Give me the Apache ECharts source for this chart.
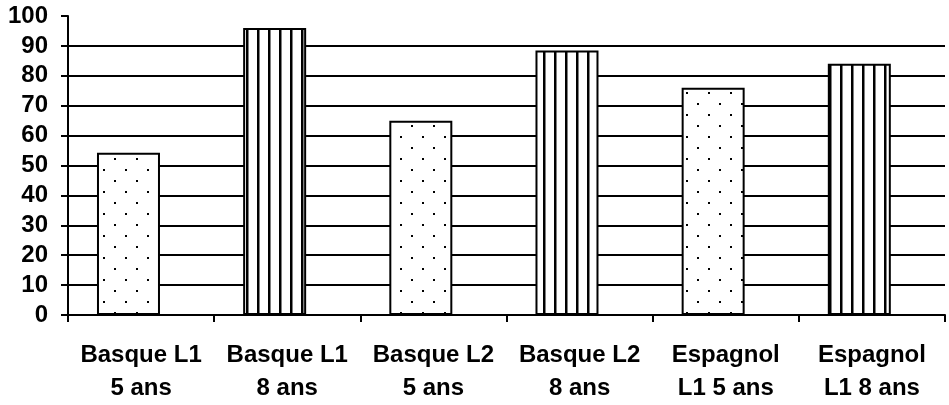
<!DOCTYPE html>
<html>
<head>
<meta charset="utf-8">
<script src="https://cdn.jsdelivr.net/npm/echarts@6/dist/echarts.min.js"></script>
<style>
html,body{margin:0;padding:0;background:#fff;}
#chart{width:949px;height:405px;}
</style>
</head>
<body>
<div id="chart"></div>
<script>
var categories = ['Basque L1\n5 ans', 'Basque L1\n8 ans', 'Basque L2\n5 ans', 'Basque L2\n8 ans', 'Espagnol\nL1 5 ans', 'Espagnol\nL1 8 ans'];
var values = [54.3, 96, 65, 88.5, 76, 84];
var patterns = ['dots', 'stripes', 'dots', 'stripes', 'dots', 'stripes'];
var yTicks = [0, 10, 20, 30, 40, 50, 60, 70, 80, 90, 100];

function makeDots() {
  var c = document.createElement('canvas');
  c.width = 22; c.height = 22;
  var g = c.getContext('2d');
  g.fillStyle = '#fff'; g.fillRect(0, 0, 22, 22);
  g.fillStyle = '#000';
  g.fillRect(4, 4, 2, 2);
  g.fillRect(15, 15, 2, 2);
  return c;
}
function makeStripes() {
  var c = document.createElement('canvas');
  c.width = 11; c.height = 11;
  var g = c.getContext('2d');
  g.fillStyle = '#fff'; g.fillRect(0, 0, 11, 11);
  g.fillStyle = '#000';
  g.fillRect(4, 0, 2.5, 11);
  return c;
}
var pat = {
  dots: { image: makeDots(), repeat: 'repeat' },
  stripes: { image: makeStripes(), repeat: 'repeat' }
};

var chart = echarts.init(document.getElementById('chart'), null, { renderer: 'canvas' });
var font = '"Liberation Sans", Arial, sans-serif';
chart.setOption({
  animation: false,
  backgroundColor: '#fff',
  grid: { left: 68, right: 4, top: 16, bottom: 85, containLabel: false },
  xAxis: {
    type: 'category',
    data: categories,
    boundaryGap: true,
    axisLine: { show: true, lineStyle: { color: '#000', width: 2 } },
    axisTick: { show: true, length: 7, lineStyle: { color: '#000', width: 2 }, alignWithLabel: false },
    axisLabel: { interval: 0, color: '#000', fontFamily: font, fontWeight: 'bold', fontSize: 24, lineHeight: 33, margin: 24 },
    splitLine: { show: false }
  },
  yAxis: {
    type: 'value',
    min: yTicks[0],
    max: yTicks[yTicks.length - 1],
    interval: 10,
    axisLine: { show: true, lineStyle: { color: '#000', width: 2 } },
    axisTick: { show: true, length: 7, lineStyle: { color: '#000', width: 2 } },
    axisLabel: { color: '#000', fontFamily: font, fontWeight: 'bold', fontSize: 24, margin: 20 },
    splitLine: { show: true, showMaxLine: false, lineStyle: { color: '#000', width: 2 } }
  },
  series: [
    {
      type: 'bar',
      barWidth: 63,
      barGap: '-60%',
      data: values.map(function (v, i) {
        return { value: v, itemStyle: { color: pat[patterns[i]], borderColor: '#000', borderWidth: 2 } };
      })
    },
    {
      type: 'bar',
      barWidth: 63,
      data: values.map(function () { return null; }),
      silent: true
    }
  ]
});
</script>
</body>
</html>
